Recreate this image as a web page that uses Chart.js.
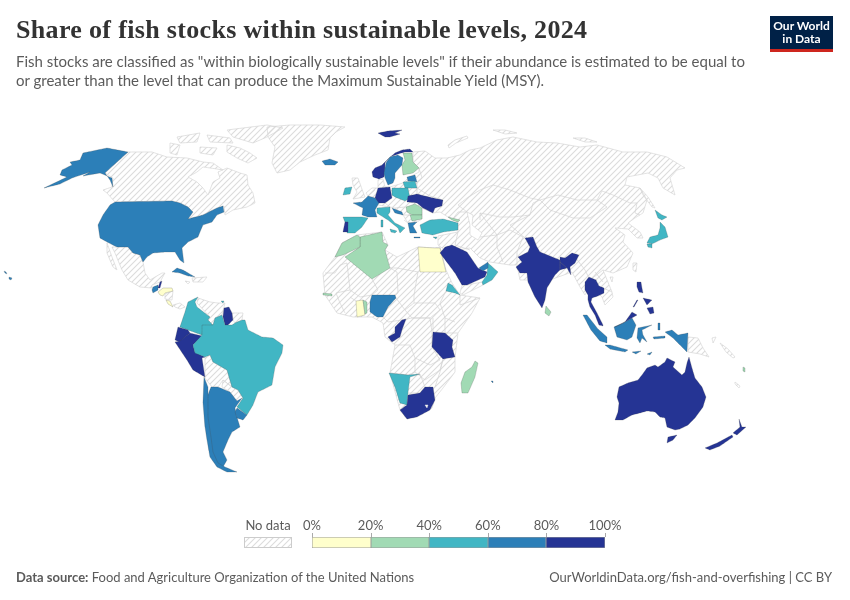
<!DOCTYPE html>
<html>
<head>
<meta charset="utf-8">
<script src="https://cdn.jsdelivr.net/npm/chart.js@4"></script>
<style>
  body { margin: 0; background: #fff; font-family: Lato, sans-serif; }
  #page { position: relative; width: 850px; height: 600px; overflow: hidden; }
  #map { position: absolute; left: 0; top: 0; }
  .txt { position: absolute; white-space: nowrap; color: #5b5b5b; }
  #title { left: 16px; top: 15px; font: bold 26px "Liberation Serif", serif; color: #333; letter-spacing: 0.33px; }
  #sub1 { left: 16px; top: 52px; font-size: 15px; }
  #sub2 { left: 16px; top: 71px; font-size: 15px; }
  #logo { position: absolute; left: 770px; top: 16px; width: 63px; height: 33px; background: #002147; border-bottom: 3px solid #ce261e;
    color: #fff; font: bold 12px/13px Lato, sans-serif; text-align: center; }
  #logo div { position: relative; top: 3px; }
  .tick { position: absolute; top: 533px; width: 1px; height: 4px; background: #aaa; }
  .swatch { position: absolute; top: 537px; height: 11px; }
  .lab { position: absolute; top: 517px; font-size: 13px; color: #5b5b5b; transform: translateX(-50%); white-space: nowrap; }
</style>
</head>
<body>
<div id="page">
  <canvas id="map" width="850" height="600"></canvas>
  <div class="txt" id="title">Share of fish stocks within sustainable levels, 2024</div>
  <div class="txt" id="sub1">Fish stocks are classified as "within biologically sustainable levels" if their abundance is estimated to be equal to</div>
  <div class="txt" id="sub2">or greater than the level that can produce the Maximum Sustainable Yield (MSY).</div>
  <div id="logo"><div>Our World<br>in Data</div></div>
  <div id="legend"></div>
  <div class="txt" style="left:16px;top:569px;font-size:13px"><b>Data source:</b> Food and Agriculture Organization of the United Nations</div>
  <div class="txt" style="right:18px;top:569px;font-size:13px">OurWorldinData.org/fish-and-overfishing | CC BY</div>
</div>
<script>
// Legend bins
const binEdges = [0, 20, 40, 60, 80, 100];
const binColors = ['#ffffcc', '#a1dab4', '#41b6c4', '#2c7fb8', '#253494'];

// Outlines, in map grid units (x, y)
const greenland = [[267,127],[290,125],[320,125],[345,127],[336,132],[330,138],[328,150],[315,155],[300,162],[290,170],[277,173],[272,163],[275,147],[268,137]];
const canada = [[128,152],[152,152],[167,157],[187,158],[203,162],[213,163],[220,168],[223,170],[217,169],[203,167],[197,172],[188,177],[197,182],[203,188],[208,195],[213,182],[220,178],[218,172],[227,168],[240,173],[247,175],[248,185],[253,193],[255,203],[247,207],[233,210],[225,215],[224,206],[217,208],[203,215],[188,219],[193,212],[188,207],[180,203],[172,201],[115,202],[107,193],[103,190],[112,187],[113,178],[105,173]];
const baffin = [[227,145],[240,148],[250,153],[257,158],[248,163],[237,158],[227,152]];
const victoriaIsland = [[200,147],[217,148],[213,155],[200,153]];
const banksIsland = [[170,143],[180,145],[177,155],[170,153]];
const ellesmere = [[227,130],[267,125],[283,128],[267,137],[253,143],[233,137]];
const devon = [[207,135],[230,138],[233,143],[210,142]];
const melville = [[177,137],[200,133],[197,142],[180,143]];
const mexico = [[117,247],[128,247],[133,253],[140,255],[143,262],[145,273],[150,280],[162,273],[165,273],[160,282],[152,285],[152,288],[140,287],[128,280],[122,270],[115,253],[112,247]];
const baja = [[107,243],[112,257],[117,270],[113,267],[107,253]];
const nicaragua = [[165,294],[173,291],[172,300],[165,299]];
const panama = [[173,305],[180,303],[185,307],[180,309],[175,307]];
const hispaniola = [[192,278],[207,277],[203,282],[193,282]];
const jamaica = [[185,281],[190,282],[188,284]];
const venezuela = [[198,298],[197,303],[210,317],[208,320],[213,327],[215,318],[222,315],[225,303],[218,303],[210,302]];
const guianas = [[232,313],[243,313],[242,320],[235,323],[233,320]];
const bolivia = [[205,358],[210,355],[213,362],[227,370],[232,387],[223,380],[218,387],[212,387],[205,378]];
const paraguay = [[223,380],[232,387],[238,390],[243,398],[237,402],[230,392],[222,387]];
const uk = [[352,178],[358,178],[363,192],[365,197],[353,199],[357,192],[353,185]];
const eurasia = [[413,152],[425,151],[435,158],[447,158],[460,155],[470,150],[480,148],[497,140],[513,137],[537,142],[557,143],[580,147],[597,145],[623,152],[647,152],[667,157],[685,168],[677,170],[670,178],[675,195],[663,188],[658,178],[648,173],[627,177],[625,185],[640,188],[647,200],[643,213],[635,218],[628,223],[640,232],[643,238],[637,238],[628,229],[615,228],[625,235],[623,242],[633,253],[627,267],[613,273],[603,270],[612,292],[613,297],[605,305],[602,297],[590,285],[585,295],[580,287],[572,272],[550,280],[520,280],[517,265],[510,265],[490,262],[480,258],[470,248],[458,250],[445,250],[438,245],[438,236],[458,232],[458,222],[448,217],[440,212],[433,213],[422,208],[422,219],[417,222],[408,223],[403,215],[395,208],[390,207],[378,205],[375,198],[368,196],[366,193],[372,188],[378,188],[378,180],[383,179],[385,187],[390,187],[403,183],[408,178],[419,172],[419,168],[413,162]];
const caspian = [[467,212],[473,215],[472,225],[482,233],[478,240],[470,235],[470,225]];
const novayaZemlya = [[448,145],[455,140],[467,136],[468,138],[456,143],[449,148]];
const arcticIslandsA = [[493,130],[505,130],[517,133],[505,134]];
const arcticIslandsB = [[573,138],[585,138],[597,142],[585,142]];
const sakhalin = [[640,188],[648,197],[655,208],[652,207],[643,195]];
const taiwan = [[633,263],[637,263],[636,272],[633,270]];
const hainan = [[610,277],[613,277],[612,282]];
const png = [[688,337],[698,338],[703,348],[709,357],[700,354],[688,352]];
const newBritain = [[712,338],[716,337],[713,343]];
const solomons = [[720,343],[728,349],[735,357],[733,358],[726,352]];
const newCaledonia = [[735,382],[740,386],[739,388],[735,384]];
const africa = [[342,243],[357,235],[382,232],[388,245],[385,250],[397,257],[418,247],[435,248],[440,247],[446,270],[452,283],[460,295],[480,298],[472,313],[458,333],[455,358],[455,372],[443,388],[435,398],[432,408],[407,419],[400,410],[390,373],[392,362],[395,345],[385,337],[383,323],[372,317],[353,317],[337,313],[325,295],[323,273],[335,257]];
const yemen = [[462,285],[467,285],[482,282],[483,285],[463,295],[460,293]];
const lesotho = [[425,405],[428,405],[427,408]];

const alaska = [[128,152],[107,148],[83,153],[80,160],[70,162],[72,165],[62,170],[60,175],[67,177],[44,188],[60,184],[72,178],[90,172],[83,176],[100,173],[112,178],[113,187],[110,180],[105,173]];
const usa = [[115,202],[172,201],[180,203],[188,207],[193,212],[188,219],[203,215],[213,210],[217,208],[223,206],[224,212],[217,215],[212,222],[203,225],[200,232],[198,237],[188,242],[182,248],[184,263],[180,260],[175,252],[165,252],[153,253],[147,257],[143,262],[140,255],[133,253],[128,247],[117,247],[107,242],[100,238],[98,225],[103,215],[110,205]];
const hawaii = [[9,277],[12,278],[11,280],[9,279]];
const hawaiiWest = [[4,271],[6,272],[7,274],[5,273]];
const guatemala = [[153,287],[158,285],[158,290],[153,293],[152,290]];
const belize = [[160,282],[162,281],[160,288],[158,288]];
const honduras = [[158,292],[163,288],[172,288],[173,291],[165,293],[163,296],[160,295]];
const costaRica = [[166,300],[170,301],[173,307],[168,304]];
const cuba = [[172,272],[177,268],[183,270],[195,277],[188,276],[180,273]];
const colombia = [[198,297],[188,302],[185,312],[180,327],[188,330],[202,335],[203,327],[213,325],[208,320],[210,317],[197,307],[195,302]];
const guyana = [[224,308],[229,307],[232,313],[233,320],[228,325],[225,325],[223,317]];
const trinidad = [[221,301],[224,301],[223,303]];
const ecuador = [[178,327],[188,330],[190,333],[180,342],[175,340]];
const peru = [[180,341],[190,333],[202,336],[193,345],[195,352],[205,357],[202,358],[205,377],[193,370],[187,360],[175,342]];
const brazil = [[202,325],[213,325],[215,318],[222,315],[225,325],[232,325],[235,323],[242,320],[245,320],[248,330],[262,337],[273,338],[283,345],[282,353],[275,367],[272,385],[258,392],[253,405],[247,415],[237,407],[243,398],[238,390],[232,387],[227,370],[213,362],[210,355],[205,357],[195,353],[193,345],[202,335]];
const argentina = [[211,387],[218,387],[230,392],[237,401],[242,398],[235,408],[237,417],[240,427],[232,432],[228,440],[223,452],[227,460],[223,467],[215,462],[209,450],[209,437],[206,417],[206,400]];
const chile = [[204,377],[208,387],[208,400],[208,417],[211,437],[213,452],[218,463],[225,467],[237,472],[227,472],[217,467],[210,457],[207,440],[205,427],[203,403]];
const uruguay = [[237,408],[247,415],[243,420],[237,418],[235,412]];
const svalbard = [[378,133],[388,131],[402,130],[395,133],[400,134],[390,137],[385,137]];
const iceland = [[322,161],[330,159],[338,162],[335,165],[325,165]];
const norway = [[413,152],[410,149],[402,150],[395,153],[388,159],[382,165],[375,168],[372,172],[373,177],[379,179],[384,177],[385,172],[385,163],[390,157],[398,154],[405,152]];
const sweden = [[398,155],[403,158],[402,165],[395,173],[395,178],[393,183],[388,185],[385,178],[384,173],[386,163],[390,157]];
const finland = [[403,153],[412,153],[413,162],[419,168],[413,173],[403,175],[402,165],[405,160]];
const estonia = [[407,177],[415,175],[417,182],[408,181]];
const lithuania = [[403,182],[415,181],[417,188],[405,188]];
const poland = [[392,188],[408,188],[410,198],[405,201],[395,197],[392,195]];
const germany = [[378,188],[390,187],[392,198],[385,203],[378,203],[375,198]];
const france = [[368,196],[375,198],[379,203],[375,210],[377,217],[368,217],[362,215],[363,208],[353,203],[362,202]];
const spain = [[343,217],[362,217],[368,218],[362,227],[355,233],[347,233],[348,222],[345,222]];
const portugal = [[345,222],[348,222],[348,232],[343,232]];
const italy = [[377,208],[390,207],[390,212],[388,215],[395,223],[405,228],[400,233],[398,228],[388,220],[380,215],[377,213]];
const sicily = [[390,229],[397,231],[395,233],[391,232]];
const sardinia = [[381,220],[383,220],[383,227],[381,227]];
const croatia = [[392,208],[402,212],[403,215],[395,213]];
const romania = [[406,207],[415,204],[422,208],[422,215],[412,215],[407,212]];
const bulgaria = [[410,215],[422,215],[422,219],[412,221]];
const ukraine = [[408,196],[417,194],[433,198],[443,200],[442,206],[435,208],[433,213],[423,208],[417,203],[407,202]];
const greece = [[408,223],[417,222],[413,226],[417,233],[410,233]];
const crete = [[414,237],[420,237],[420,238],[414,238]];
const turkey = [[420,225],[430,220],[443,219],[458,223],[458,230],[443,232],[433,235],[422,233]];
const georgia = [[448,217],[460,220],[458,222],[452,220]];
const cyprus = [[433,237],[437,237],[436,239]];
const ireland = [[345,188],[352,187],[350,194],[343,195]];
const india = [[525,238],[533,237],[537,247],[540,252],[560,260],[560,257],[565,258],[572,253],[579,255],[575,263],[570,267],[571,275],[567,268],[560,270],[555,275],[547,288],[545,300],[542,308],[535,297],[528,282],[527,273],[520,273],[516,267],[522,262],[518,257],[528,252],[530,247]];
const sriLanka = [[546,306],[551,312],[549,316],[545,313]];
const thailand = [[585,282],[589,277],[596,280],[599,286],[604,288],[604,293],[598,296],[592,298],[591,302],[597,313],[603,325],[603,326],[599,325],[595,315],[590,307],[588,300],[588,295],[585,290]];
const luzon = [[637,282],[641,282],[642,288],[643,293],[639,292],[637,287]];
const visayas = [[643,298],[652,300],[647,305]];
const mindanao = [[647,308],[653,307],[654,313],[650,314]];
const palawan = [[633,307],[637,300],[638,300],[634,307]];
const sumatra = [[583,315],[587,315],[598,329],[607,337],[607,343],[600,341],[591,330]];
const java = [[605,345],[610,345],[628,350],[625,352],[610,349]];
const kalimantan = [[614,327],[623,323],[632,318],[636,325],[632,337],[627,340],[617,337]];
const sabah = [[615,327],[625,322],[632,312],[637,315],[632,318],[623,323]];
const sulawesi = [[638,328],[652,325],[642,330],[643,335],[647,342],[642,338],[640,343],[637,338]];
const westPapua = [[665,332],[672,330],[678,335],[688,333],[687,352],[680,345],[673,338]];
const timor = [[632,352],[641,351],[636,354]];
const flores = [[647,354],[652,352],[650,355]];
const maluku = [[658,323],[660,323],[660,330],[658,330]];
const seram = [[653,337],[665,336],[665,338],[654,339]];
const australia = [[619,387],[628,383],[638,380],[642,375],[647,368],[655,365],[658,367],[665,362],[667,358],[675,362],[673,367],[682,375],[685,372],[687,363],[689,357],[692,368],[695,378],[702,387],[706,397],[703,407],[695,418],[688,425],[680,429],[675,430],[667,427],[665,418],[660,417],[655,412],[647,411],[640,413],[632,415],[623,420],[615,420],[618,412],[619,403],[617,397]];
const tasmania = [[668,437],[677,435],[673,440],[667,443]];
const nzNorth = [[739,419],[742,427],[746,427],[737,435],[733,433],[740,427]];
const nzSouth = [[705,448],[717,443],[732,435],[733,437],[720,446],[710,450]];
const fiji = [[743,367],[745,368],[745,372],[743,371]];
const hokkaido = [[655,210],[662,215],[667,217],[662,220],[658,218]];
const honshu = [[660,222],[665,227],[668,237],[660,240],[652,244],[647,243],[650,237],[658,235],[660,228]];
const kyushu = [[647,244],[652,244],[652,248],[648,247]];
const algeria = [[360,237],[382,232],[383,242],[388,245],[385,250],[390,268],[372,279],[345,257],[360,247]];
const morocco = [[342,243],[357,235],[360,237],[360,247],[343,255],[335,257]];
const egypt = [[418,247],[435,248],[440,248],[446,272],[420,272]];
const saudi = [[445,247],[452,245],[467,252],[478,268],[487,272],[485,277],[467,285],[462,285],[455,273],[440,253]];
const oman = [[488,263],[498,272],[492,280],[483,285],[482,282],[487,275]];
const uae = [[479,268],[488,262],[488,268],[483,271]];
const eritrea = [[448,283],[452,285],[460,295],[455,293],[446,291]];
const nigeria = [[372,295],[395,295],[396,298],[388,307],[383,317],[377,317],[370,312],[370,302]];
const ghana = [[356,301],[363,300],[365,315],[357,317]];
const togo = [[363,300],[367,302],[367,313],[365,314]];
const congo = [[402,320],[406,319],[402,330],[400,337],[392,342],[388,337],[395,333],[395,327]];
const tanzania = [[433,332],[445,333],[453,340],[452,347],[455,357],[443,359],[432,347]];
const namibia = [[389,373],[408,375],[420,374],[410,377],[408,393],[407,405],[400,403],[395,387]];
const southAfrica = [[408,395],[420,393],[425,387],[433,387],[435,400],[430,410],[417,417],[407,419],[400,410],[407,405]];
const madagascar = [[475,361],[478,363],[475,377],[468,393],[462,393],[461,383],[465,372],[472,367]];
const gambia = [[323,293],[332,294],[332,296],[323,295]];
const mauritius = [[491,381],[493,381],[493,383]];

// Countries: outline and share of stocks (%), estimated from the colour bins
const noDataShapes = [greenland, canada, baffin, victoriaIsland, banksIsland, ellesmere, devon, melville, mexico, baja, nicaragua, panama, hispaniola, jamaica, venezuela, guianas, bolivia, paraguay, uk, eurasia, novayaZemlya, arcticIslandsA, arcticIslandsB, sakhalin, taiwan, hainan, png, newBritain, solomons, newCaledonia, africa, yemen];
const sharedShapes = [
  [alaska, 70], [usa, 70], [hawaii, 70], [hawaiiWest, 70], [guatemala, 70], [belize, 90], [honduras, 10], [costaRica, 10], [cuba, 70],
  [colombia, 50], [guyana, 90], [trinidad, 50], [ecuador, 90], [peru, 90], [brazil, 50], [argentina, 70], [chile, 70], [uruguay, 70],
  [svalbard, 90], [iceland, 70], [norway, 90], [sweden, 70], [finland, 30], [estonia, 70], [lithuania, 50], [poland, 50], [germany, 90],
  [france, 70], [spain, 50], [portugal, 90], [italy, 50], [sicily, 50], [sardinia, 50], [croatia, 70], [romania, 30], [bulgaria, 30],
  [ukraine, 90], [greece, 70], [crete, 70], [turkey, 50], [georgia, 30], [cyprus, 50], [ireland, 50],
  [india, 90], [sriLanka, 30], [thailand, 90], [luzon, 90], [visayas, 90], [mindanao, 90], [palawan, 90],
  [sumatra, 70], [java, 70], [kalimantan, 70], [sabah, 90], [sulawesi, 70], [westPapua, 70], [timor, 70], [flores, 70], [maluku, 70], [seram, 70],
  [australia, 90], [tasmania, 90], [nzNorth, 90], [nzSouth, 90], [fiji, 30], [hokkaido, 50], [honshu, 50], [kyushu, 50],
  [algeria, 30], [morocco, 30], [egypt, 10], [saudi, 90], [oman, 50], [uae, 70], [eritrea, 50], [nigeria, 70], [ghana, 10], [togo, 30],
  [congo, 90], [tanzania, 90], [namibia, 50], [southAfrica, 90], [madagascar, 30], [gambia, 30], [mauritius, 70]
];
const whiteShapes = [caspian];
const hatchedOnTop = [lesotho];

// Borders between countries without data
const noDataBorders = [
  [[419,168],[422,178],[417,182],[417,194]], [[408,188],[417,188],[430,196],[443,200]], [[452,220],[458,212],[467,212]], [[467,198],[480,190],[493,185],[510,190],[530,198],[540,200],[558,195],[577,200],[597,200],[602,191],[613,195],[630,203],[637,203],[635,213],[640,215]],
  [[467,198],[458,205],[467,212]], [[540,200],[550,210],[573,218],[590,218],[607,207],[597,200]], [[480,220],[480,213],[500,217],[513,217],[530,215],[533,203],[540,200]],
  [[530,215],[510,225],[525,238]], [[497,235],[510,230],[523,237],[517,252],[517,265]], [[480,237],[497,235],[497,247],[503,262]], [[458,232],[455,245],[470,250]], [[480,213],[497,235]],
  [[572,253],[585,270],[590,280]], [[590,280],[603,270]], [[603,288],[612,292]], [[595,272],[603,282]],
  [[385,203],[390,207]], [[395,208],[405,207]], [[403,215],[410,215]], [[368,196],[375,190]], [[408,223],[404,220]],
  [[325,273],[335,273],[340,265],[347,263]], [[347,263],[350,290],[336,293]], [[372,279],[378,290],[372,295],[360,297],[350,290]], [[390,268],[397,272],[398,293],[395,296]],
  [[390,268],[397,268],[418,272]], [[418,272],[414,295],[414,303],[405,310]], [[396,298],[405,310]], [[405,310],[412,318],[430,318],[440,310],[435,303],[414,303]],
  [[446,291],[440,303],[445,318],[455,322]], [[460,295],[460,305],[480,298]], [[445,318],[445,333],[458,333]], [[402,320],[412,318],[430,318],[432,332],[432,347],[440,360],[430,365],[415,358],[410,345],[395,345]],
  [[390,373],[408,375],[415,372],[415,358]], [[415,372],[425,380],[440,370],[443,359]], [[443,359],[440,372],[435,387]], [[408,393],[420,393],[425,387],[420,374]],
  [[336,293],[340,303],[345,313]], [[350,297],[356,301]], [[372,295],[370,302]], [[383,317],[388,322],[402,320]], [[433,318],[433,332]]
];
// Borders between countries that share a colour
const dataBorders = [
  [[560,260],[560,270]], [[560,262],[567,268]]
];

const tickLabels = ['0%', '20%', '40%', '60%', '80%', '100%'];

function makeHatch() {
    const c = document.createElement('canvas');
    c.width = 6; c.height = 6;
    const p = c.getContext('2d');
    p.strokeStyle = '#dcdcdc';
    p.lineWidth = 1.1;
    p.beginPath();
    p.moveTo(-1, 7); p.lineTo(7, -1);
    p.moveTo(-1, 1); p.lineTo(1, -1);
    p.moveTo(5, 7); p.lineTo(7, 5);
    p.stroke();
    return p.createPattern(c, 'repeat');
}

function binColor(share) {
    for (let i = 0; i < binColors.length; i++) {
        if (share <= binEdges[i + 1]) return binColors[i];
    }
    return binColors[binColors.length - 1];
}

function toPoints(outline, close) {
    const pts = outline.map(p => ({ x: p[0], y: p[1] }));
    if (close) pts.push(pts[0]);
    return pts;
}

// A tiny tension keeps Chart.js off its fast path, which merges points sharing an x pixel
function shapeDataset(outline, fillColor, lineColor, lineWidth) {
    return {
        data: toPoints(outline, true),
        showLine: true,
        fill: 'shape',
        backgroundColor: fillColor,
        borderColor: lineColor,
        borderWidth: lineWidth,
        pointRadius: 0,
        tension: 0.001
    };
}

function borderDataset(line, lineColor) {
    return {
        data: toPoints(line, false), showLine: true, fill: false,
        borderColor: lineColor, borderWidth: 0.7, pointRadius: 0, tension: 0.001
    };
}

function buildDatasets(hatch) {
    const layers = [];
    noDataShapes.forEach(s => layers.push(shapeDataset(s, hatch, '#d6d6d6', 0.7)));
    noDataBorders.forEach(b => layers.push(borderDataset(b, '#d2d2d2')));
    whiteShapes.forEach(s => layers.push(shapeDataset(s, '#ffffff', '#d6d6d6', 0.7)));
    sharedShapes.forEach(s => layers.push(shapeDataset(s[0], binColor(s[1]), 'rgba(70,70,70,0.45)', 0.5)));
    dataBorders.forEach(b => layers.push(borderDataset(b, 'rgba(110,110,110,0.6)')));
    hatchedOnTop.forEach(s => layers.push(shapeDataset(s, '#ffffff', '#d6d6d6', 0.5)));
    // Chart.js paints the first dataset last, so flip to keep this order
    return layers.reverse();
}

function buildLegend(hatch) {
    const legend = document.getElementById('legend');
    const left = 312, step = 58.6;
    let html = '<div class="lab" style="left:268px">No data</div>' +
        '<canvas id="ndbox" width="48" height="11" style="position:absolute;left:244px;top:537px;outline:1px solid #ccc;outline-offset:-1px"></canvas>';
    binColors.forEach((c, i) => {
        html += `<div class="swatch" style="left:${left + i * step}px;width:${step}px;background:${c};box-shadow:inset 0 0 0 0.5px #999"></div>`;
    });
    tickLabels.forEach((t, i) => {
        html += `<div class="lab" style="left:${left + i * step}px">${t}</div>`;
        html += `<div class="tick" style="left:${left + i * step}px"></div>`;
    });
    legend.innerHTML = html;
    const box = document.getElementById('ndbox').getContext('2d');
    box.fillStyle = hatch;
    box.fillRect(0, 0, 48, 11);
}

function init() {
    const ctx = document.getElementById('map').getContext('2d');
    const hatch = makeHatch();
    new Chart(ctx, {
        type: 'scatter',
        data: { datasets: buildDatasets(hatch) },
        options: {
            responsive: false,
            animation: false,
            layout: { padding: 0 },
            plugins: { legend: { display: false }, tooltip: { enabled: false }, title: { display: false } },
            scales: {
                x: { type: 'linear', min: 0, max: 850, display: false },
                y: { type: 'linear', min: 0, max: 600, reverse: true, display: false }
            }
        }
    });
    buildLegend(hatch);
}

document.addEventListener('DOMContentLoaded', init);
</script>
</body>
</html>
